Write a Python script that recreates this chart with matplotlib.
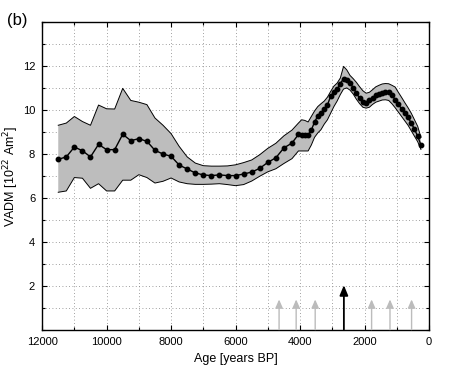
"""VADM curve with uncertainty envelope over the Holocene (panel b)."""

import matplotlib
matplotlib.use('Agg')
import matplotlib.pyplot as plt
from matplotlib.ticker import MultipleLocator

# Age [years BP] of each point of the curve
ages = [11500, 11250, 11000, 10750, 10500, 10250, 10000, 9750, 9500, 9250,
        9000, 8750, 8500, 8250, 8000, 7750, 7500, 7250, 7000, 6750,
        6500, 6250, 6000, 5750, 5500, 5250, 5000, 4750, 4500, 4250,
        4050, 3950, 3850, 3750, 3650, 3550, 3450, 3350, 3250, 3150,
        3050, 2950, 2850, 2750, 2650, 2550, 2450, 2350, 2250, 2150,
        2050, 1950, 1850, 1750, 1650, 1550, 1450, 1350, 1250, 1150,
        1050, 950, 850, 750, 650, 550, 450, 350, 250]

# VADM [10^22 Am^2]
vadm_mean = [7.75, 7.86, 8.31, 8.14, 7.86, 8.43, 8.19, 8.19, 8.89, 8.60,
             8.69, 8.57, 8.16, 7.99, 7.89, 7.49, 7.31, 7.13, 7.04, 7.01,
             7.04, 7.01, 7.01, 7.08, 7.17, 7.34, 7.61, 7.82, 8.27, 8.49,
             8.88, 8.87, 8.85, 8.86, 9.08, 9.45, 9.72, 9.87, 10.03, 10.22,
             10.63, 10.80, 10.93, 11.20, 11.42, 11.35, 11.22, 11.01, 10.77, 10.52,
             10.36, 10.33, 10.44, 10.53, 10.66, 10.72, 10.78, 10.83, 10.80, 10.70,
             10.45, 10.25, 10.05, 9.85, 9.66, 9.40, 9.12, 8.80, 8.40]

vadm_upper = [9.30, 9.40, 9.70, 9.47, 9.30, 10.22, 10.05, 10.04, 10.98, 10.43,
              10.35, 10.24, 9.63, 9.30, 8.92, 8.34, 7.86, 7.58, 7.46, 7.44,
              7.44, 7.45, 7.50, 7.60, 7.72, 7.96, 8.25, 8.48, 8.82, 9.08,
              9.40, 9.55, 9.52, 9.45, 9.70, 9.95, 10.15, 10.28, 10.40, 10.58,
              10.84, 11.08, 11.22, 11.45, 11.98, 11.82, 11.57, 11.42, 11.25, 11.05,
              10.87, 10.76, 10.80, 10.92, 11.05, 11.12, 11.18, 11.20, 11.19, 11.12,
              11.04, 10.80, 10.57, 10.33, 10.10, 9.85, 9.55, 9.25, 8.75]

vadm_lower = [6.25, 6.31, 6.92, 6.89, 6.43, 6.64, 6.31, 6.31, 6.80, 6.80,
              7.05, 6.92, 6.67, 6.75, 6.90, 6.72, 6.64, 6.61, 6.61, 6.62,
              6.64, 6.60, 6.55, 6.60, 6.76, 6.98, 7.18, 7.32, 7.56, 7.78,
              8.13, 8.13, 8.13, 8.13, 8.40, 8.75, 8.95, 9.10, 9.35, 9.55,
              9.85, 10.15, 10.40, 10.70, 10.95, 11.00, 10.90, 10.72, 10.48, 10.28,
              10.12, 10.08, 10.12, 10.25, 10.35, 10.40, 10.45, 10.46, 10.43, 10.28,
              10.10, 9.90, 9.70, 9.50, 9.30, 9.05, 8.80, 8.55, 8.20]

# Event markers along the age axis
minor_arrow_ages = [4650, 4120, 3530, 1780, 1210, 540]
minor_arrow_top = 1.37
main_arrow_ages = [2640]
main_arrow_top = 2.02

plt.rcParams['font.family'] = ['Liberation Sans', 'DejaVu Sans']

fig = plt.figure(figsize=(4.53, 3.67), dpi=100)
ax = fig.add_axes([0.093, 0.102, 0.854, 0.838])

ax.fill_between(ages, vadm_lower, vadm_upper, facecolor='#bdbdbd',
                edgecolor='none', zorder=2)
ax.plot(ages, vadm_upper, color='black', lw=0.7, zorder=3)
ax.plot(ages, vadm_lower, color='black', lw=0.7, zorder=3)
ax.plot(ages, vadm_mean, color='black', lw=1.0, marker='o', ms=3.2, zorder=4)

for age in minor_arrow_ages:
    ax.annotate('', xy=(age, minor_arrow_top), xytext=(age, 0),
                arrowprops=dict(arrowstyle='-|>,head_length=0.5,head_width=0.22',
                                color='#bcbcbc', lw=1.0, shrinkA=0, shrinkB=0),
                zorder=3)
for age in main_arrow_ages:
    ax.annotate('', xy=(age, main_arrow_top), xytext=(age, 0),
                arrowprops=dict(arrowstyle='-|>,head_length=0.6,head_width=0.25',
                                color='black', lw=1.3, shrinkA=0, shrinkB=0),
                zorder=3)

ax.set_xlim(12000, 0)
ax.set_ylim(0, 14)
ax.xaxis.set_major_locator(MultipleLocator(2000))
ax.xaxis.set_minor_locator(MultipleLocator(1000))
ax.yaxis.set_major_locator(MultipleLocator(2))
ax.yaxis.set_minor_locator(MultipleLocator(1))
ax.set_yticks([2, 4, 6, 8, 10, 12])

ax.grid(True, which='both', linestyle=(0, (1, 3)), color='#808080', lw=0.6)
ax.set_axisbelow(True)
ax.tick_params(which='both', direction='in', top=True, right=True,
               labelsize=8, width=0.8)
ax.tick_params(which='major', length=3.5, pad=5)
ax.tick_params(which='minor', length=2)
for spine in ax.spines.values():
    spine.set_linewidth(1.0)

ax.set_xlabel('Age [years BP]', fontsize=9, labelpad=5)
ax.set_ylabel('VADM [10$^{22}$ Am$^{2}$]', fontsize=9, labelpad=1)
fig.text(0.015, 0.965, '(b)', fontsize=12, va='top', ha='left')

fig.savefig('out.png', dpi=100)
